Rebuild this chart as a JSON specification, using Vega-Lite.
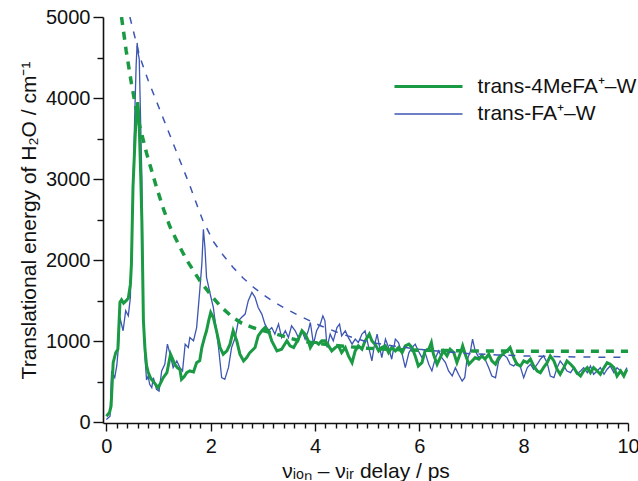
{
  "$schema": "https://vega.github.io/schema/vega-lite/v6.json",
  "width": 525,
  "height": 406,
  "autosize": {"type": "none"},
  "padding": {"left": 103, "top": 17, "right": 10, "bottom": 58},
  "background": "white",
  "config": {
    "view": {"stroke": null},
    "font": "Liberation Sans",
    "axis": {
      "domainColor": "#111", "domainWidth": 1.6, "tickColor": "#111", "tickWidth": 1.4,
      "labelFont": "Liberation Sans", "labelFontSize": 20, "labelColor": "#111",
      "titleFont": "Liberation Sans", "titleFontSize": 21, "titleFontWeight": "normal", "titleColor": "#111",
      "grid": false, "labelOverlap": false, "labelFlush": false, "labelBound": false
    }
  },
  "datasets": {
    "traces": [
      {"series": "trans-4MeFA⁺–W", "t": 0.00, "E": 74},
      {"series": "trans-4MeFA⁺–W", "t": 0.06, "E": 120},
      {"series": "trans-4MeFA⁺–W", "t": 0.09, "E": 200},
      {"series": "trans-4MeFA⁺–W", "t": 0.13, "E": 735},
      {"series": "trans-4MeFA⁺–W", "t": 0.18, "E": 860},
      {"series": "trans-4MeFA⁺–W", "t": 0.22, "E": 900},
      {"series": "trans-4MeFA⁺–W", "t": 0.26, "E": 1480},
      {"series": "trans-4MeFA⁺–W", "t": 0.29, "E": 1510},
      {"series": "trans-4MeFA⁺–W", "t": 0.33, "E": 1470},
      {"series": "trans-4MeFA⁺–W", "t": 0.38, "E": 1500},
      {"series": "trans-4MeFA⁺–W", "t": 0.42, "E": 1530},
      {"series": "trans-4MeFA⁺–W", "t": 0.46, "E": 1700},
      {"series": "trans-4MeFA⁺–W", "t": 0.48, "E": 1950},
      {"series": "trans-4MeFA⁺–W", "t": 0.51, "E": 2900},
      {"series": "trans-4MeFA⁺–W", "t": 0.55, "E": 3500},
      {"series": "trans-4MeFA⁺–W", "t": 0.57, "E": 3750},
      {"series": "trans-4MeFA⁺–W", "t": 0.59, "E": 3900},
      {"series": "trans-4MeFA⁺–W", "t": 0.60, "E": 3950},
      {"series": "trans-4MeFA⁺–W", "t": 0.62, "E": 3800},
      {"series": "trans-4MeFA⁺–W", "t": 0.63, "E": 3650},
      {"series": "trans-4MeFA⁺–W", "t": 0.66, "E": 3000},
      {"series": "trans-4MeFA⁺–W", "t": 0.68, "E": 2490},
      {"series": "trans-4MeFA⁺–W", "t": 0.71, "E": 1251},
      {"series": "trans-4MeFA⁺–W", "t": 0.74, "E": 900},
      {"series": "trans-4MeFA⁺–W", "t": 0.77, "E": 700},
      {"series": "trans-4MeFA⁺–W", "t": 0.80, "E": 620},
      {"series": "trans-4MeFA⁺–W", "t": 0.85, "E": 540},
      {"series": "trans-4MeFA⁺–W", "t": 0.90, "E": 500},
      {"series": "trans-4MeFA⁺–W", "t": 0.95, "E": 460},
      {"series": "trans-4MeFA⁺–W", "t": 0.99, "E": 425},
      {"series": "trans-4MeFA⁺–W", "t": 1.03, "E": 470},
      {"series": "trans-4MeFA⁺–W", "t": 1.09, "E": 549},
      {"series": "trans-4MeFA⁺–W", "t": 1.16, "E": 611},
      {"series": "trans-4MeFA⁺–W", "t": 1.23, "E": 839},
      {"series": "trans-4MeFA⁺–W", "t": 1.27, "E": 780},
      {"series": "trans-4MeFA⁺–W", "t": 1.31, "E": 715},
      {"series": "trans-4MeFA⁺–W", "t": 1.36, "E": 673},
      {"series": "trans-4MeFA⁺–W", "t": 1.41, "E": 650},
      {"series": "trans-4MeFA⁺–W", "t": 1.44, "E": 529},
      {"series": "trans-4MeFA⁺–W", "t": 1.49, "E": 560},
      {"series": "trans-4MeFA⁺–W", "t": 1.54, "E": 611},
      {"series": "trans-4MeFA⁺–W", "t": 1.60, "E": 632},
      {"series": "trans-4MeFA⁺–W", "t": 1.67, "E": 620},
      {"series": "trans-4MeFA⁺–W", "t": 1.73, "E": 735},
      {"series": "trans-4MeFA⁺–W", "t": 1.79, "E": 760},
      {"series": "trans-4MeFA⁺–W", "t": 1.83, "E": 921},
      {"series": "trans-4MeFA⁺–W", "t": 1.88, "E": 1044},
      {"series": "trans-4MeFA⁺–W", "t": 1.92, "E": 1128},
      {"series": "trans-4MeFA⁺–W", "t": 1.96, "E": 1250},
      {"series": "trans-4MeFA⁺–W", "t": 2.00, "E": 1354},
      {"series": "trans-4MeFA⁺–W", "t": 2.05, "E": 1292},
      {"series": "trans-4MeFA⁺–W", "t": 2.11, "E": 1128},
      {"series": "trans-4MeFA⁺–W", "t": 2.18, "E": 921},
      {"series": "trans-4MeFA⁺–W", "t": 2.24, "E": 839},
      {"series": "trans-4MeFA⁺–W", "t": 2.31, "E": 880},
      {"series": "trans-4MeFA⁺–W", "t": 2.37, "E": 963},
      {"series": "trans-4MeFA⁺–W", "t": 2.43, "E": 1128},
      {"series": "trans-4MeFA⁺–W", "t": 2.50, "E": 1004},
      {"series": "trans-4MeFA⁺–W", "t": 2.56, "E": 839},
      {"series": "trans-4MeFA⁺–W", "t": 2.63, "E": 756},
      {"series": "trans-4MeFA⁺–W", "t": 2.69, "E": 797},
      {"series": "trans-4MeFA⁺–W", "t": 2.75, "E": 859},
      {"series": "trans-4MeFA⁺–W", "t": 2.85, "E": 921},
      {"series": "trans-4MeFA⁺–W", "t": 2.91, "E": 1066},
      {"series": "trans-4MeFA⁺–W", "t": 2.98, "E": 1128},
      {"series": "trans-4MeFA⁺–W", "t": 3.04, "E": 1168},
      {"series": "trans-4MeFA⁺–W", "t": 3.11, "E": 1128},
      {"series": "trans-4MeFA⁺–W", "t": 3.17, "E": 1004},
      {"series": "trans-4MeFA⁺–W", "t": 3.27, "E": 880},
      {"series": "trans-4MeFA⁺–W", "t": 3.36, "E": 901},
      {"series": "trans-4MeFA⁺–W", "t": 3.46, "E": 1004},
      {"series": "trans-4MeFA⁺–W", "t": 3.52, "E": 942},
      {"series": "trans-4MeFA⁺–W", "t": 3.59, "E": 921},
      {"series": "trans-4MeFA⁺–W", "t": 3.68, "E": 1025},
      {"series": "trans-4MeFA⁺–W", "t": 3.75, "E": 1128},
      {"series": "trans-4MeFA⁺–W", "t": 3.81, "E": 1087},
      {"series": "trans-4MeFA⁺–W", "t": 3.87, "E": 1004},
      {"series": "trans-4MeFA⁺–W", "t": 3.91, "E": 921},
      {"series": "trans-4MeFA⁺–W", "t": 3.97, "E": 983},
      {"series": "trans-4MeFA⁺–W", "t": 4.03, "E": 983},
      {"series": "trans-4MeFA⁺–W", "t": 4.07, "E": 963},
      {"series": "trans-4MeFA⁺–W", "t": 4.13, "E": 1004},
      {"series": "trans-4MeFA⁺–W", "t": 4.19, "E": 1004},
      {"series": "trans-4MeFA⁺–W", "t": 4.26, "E": 942},
      {"series": "trans-4MeFA⁺–W", "t": 4.32, "E": 880},
      {"series": "trans-4MeFA⁺–W", "t": 4.39, "E": 921},
      {"series": "trans-4MeFA⁺–W", "t": 4.45, "E": 942},
      {"series": "trans-4MeFA⁺–W", "t": 4.51, "E": 859},
      {"series": "trans-4MeFA⁺–W", "t": 4.58, "E": 921},
      {"series": "trans-4MeFA⁺–W", "t": 4.64, "E": 818},
      {"series": "trans-4MeFA⁺–W", "t": 4.71, "E": 735},
      {"series": "trans-4MeFA⁺–W", "t": 4.77, "E": 880},
      {"series": "trans-4MeFA⁺–W", "t": 4.83, "E": 942},
      {"series": "trans-4MeFA⁺–W", "t": 4.90, "E": 901},
      {"series": "trans-4MeFA⁺–W", "t": 4.96, "E": 1004},
      {"series": "trans-4MeFA⁺–W", "t": 5.04, "E": 1087},
      {"series": "trans-4MeFA⁺–W", "t": 5.09, "E": 1004},
      {"series": "trans-4MeFA⁺–W", "t": 5.15, "E": 963},
      {"series": "trans-4MeFA⁺–W", "t": 5.22, "E": 880},
      {"series": "trans-4MeFA⁺–W", "t": 5.28, "E": 921},
      {"series": "trans-4MeFA⁺–W", "t": 5.35, "E": 942},
      {"series": "trans-4MeFA⁺–W", "t": 5.41, "E": 859},
      {"series": "trans-4MeFA⁺–W", "t": 5.47, "E": 921},
      {"series": "trans-4MeFA⁺–W", "t": 5.54, "E": 880},
      {"series": "trans-4MeFA⁺–W", "t": 5.60, "E": 921},
      {"series": "trans-4MeFA⁺–W", "t": 5.67, "E": 859},
      {"series": "trans-4MeFA⁺–W", "t": 5.73, "E": 942},
      {"series": "trans-4MeFA⁺–W", "t": 5.80, "E": 963},
      {"series": "trans-4MeFA⁺–W", "t": 5.86, "E": 921},
      {"series": "trans-4MeFA⁺–W", "t": 5.92, "E": 818},
      {"series": "trans-4MeFA⁺–W", "t": 5.98, "E": 694},
      {"series": "trans-4MeFA⁺–W", "t": 6.05, "E": 735},
      {"series": "trans-4MeFA⁺–W", "t": 6.11, "E": 880},
      {"series": "trans-4MeFA⁺–W", "t": 6.18, "E": 901},
      {"series": "trans-4MeFA⁺–W", "t": 6.23, "E": 983},
      {"series": "trans-4MeFA⁺–W", "t": 6.27, "E": 839},
      {"series": "trans-4MeFA⁺–W", "t": 6.34, "E": 715},
      {"series": "trans-4MeFA⁺–W", "t": 6.40, "E": 797},
      {"series": "trans-4MeFA⁺–W", "t": 6.46, "E": 880},
      {"series": "trans-4MeFA⁺–W", "t": 6.53, "E": 818},
      {"series": "trans-4MeFA⁺–W", "t": 6.59, "E": 901},
      {"series": "trans-4MeFA⁺–W", "t": 6.66, "E": 859},
      {"series": "trans-4MeFA⁺–W", "t": 6.72, "E": 735},
      {"series": "trans-4MeFA⁺–W", "t": 6.79, "E": 859},
      {"series": "trans-4MeFA⁺–W", "t": 6.83, "E": 942},
      {"series": "trans-4MeFA⁺–W", "t": 6.88, "E": 839},
      {"series": "trans-4MeFA⁺–W", "t": 6.95, "E": 715},
      {"series": "trans-4MeFA⁺–W", "t": 7.01, "E": 756},
      {"series": "trans-4MeFA⁺–W", "t": 7.07, "E": 797},
      {"series": "trans-4MeFA⁺–W", "t": 7.14, "E": 777},
      {"series": "trans-4MeFA⁺–W", "t": 7.20, "E": 818},
      {"series": "trans-4MeFA⁺–W", "t": 7.26, "E": 777},
      {"series": "trans-4MeFA⁺–W", "t": 7.33, "E": 839},
      {"series": "trans-4MeFA⁺–W", "t": 7.39, "E": 756},
      {"series": "trans-4MeFA⁺–W", "t": 7.46, "E": 715},
      {"series": "trans-4MeFA⁺–W", "t": 7.52, "E": 797},
      {"series": "trans-4MeFA⁺–W", "t": 7.60, "E": 839},
      {"series": "trans-4MeFA⁺–W", "t": 7.68, "E": 880},
      {"series": "trans-4MeFA⁺–W", "t": 7.74, "E": 921},
      {"series": "trans-4MeFA⁺–W", "t": 7.81, "E": 797},
      {"series": "trans-4MeFA⁺–W", "t": 7.87, "E": 715},
      {"series": "trans-4MeFA⁺–W", "t": 7.94, "E": 694},
      {"series": "trans-4MeFA⁺–W", "t": 8.00, "E": 756},
      {"series": "trans-4MeFA⁺–W", "t": 8.07, "E": 735},
      {"series": "trans-4MeFA⁺–W", "t": 8.13, "E": 777},
      {"series": "trans-4MeFA⁺–W", "t": 8.19, "E": 694},
      {"series": "trans-4MeFA⁺–W", "t": 8.26, "E": 632},
      {"series": "trans-4MeFA⁺–W", "t": 8.32, "E": 611},
      {"series": "trans-4MeFA⁺–W", "t": 8.38, "E": 673},
      {"series": "trans-4MeFA⁺–W", "t": 8.45, "E": 735},
      {"series": "trans-4MeFA⁺–W", "t": 8.51, "E": 818},
      {"series": "trans-4MeFA⁺–W", "t": 8.58, "E": 756},
      {"series": "trans-4MeFA⁺–W", "t": 8.64, "E": 653},
      {"series": "trans-4MeFA⁺–W", "t": 8.70, "E": 591},
      {"series": "trans-4MeFA⁺–W", "t": 8.77, "E": 673},
      {"series": "trans-4MeFA⁺–W", "t": 8.83, "E": 756},
      {"series": "trans-4MeFA⁺–W", "t": 8.90, "E": 715},
      {"series": "trans-4MeFA⁺–W", "t": 8.96, "E": 673},
      {"series": "trans-4MeFA⁺–W", "t": 9.02, "E": 611},
      {"series": "trans-4MeFA⁺–W", "t": 9.09, "E": 570},
      {"series": "trans-4MeFA⁺–W", "t": 9.15, "E": 632},
      {"series": "trans-4MeFA⁺–W", "t": 9.22, "E": 673},
      {"series": "trans-4MeFA⁺–W", "t": 9.28, "E": 611},
      {"series": "trans-4MeFA⁺–W", "t": 9.34, "E": 673},
      {"series": "trans-4MeFA⁺–W", "t": 9.41, "E": 632},
      {"series": "trans-4MeFA⁺–W", "t": 9.47, "E": 591},
      {"series": "trans-4MeFA⁺–W", "t": 9.54, "E": 673},
      {"series": "trans-4MeFA⁺–W", "t": 9.60, "E": 735},
      {"series": "trans-4MeFA⁺–W", "t": 9.66, "E": 715},
      {"series": "trans-4MeFA⁺–W", "t": 9.73, "E": 673},
      {"series": "trans-4MeFA⁺–W", "t": 9.79, "E": 570},
      {"series": "trans-4MeFA⁺–W", "t": 9.86, "E": 632},
      {"series": "trans-4MeFA⁺–W", "t": 9.92, "E": 570},
      {"series": "trans-4MeFA⁺–W", "t": 9.98, "E": 653},
      {"series": "trans-FA⁺–W", "t": 0.00, "E": 33},
      {"series": "trans-FA⁺–W", "t": 0.07, "E": 74},
      {"series": "trans-FA⁺–W", "t": 0.10, "E": 632},
      {"series": "trans-FA⁺–W", "t": 0.16, "E": 549},
      {"series": "trans-FA⁺–W", "t": 0.20, "E": 700},
      {"series": "trans-FA⁺–W", "t": 0.23, "E": 921},
      {"series": "trans-FA⁺–W", "t": 0.26, "E": 1292},
      {"series": "trans-FA⁺–W", "t": 0.32, "E": 1128},
      {"series": "trans-FA⁺–W", "t": 0.37, "E": 1375},
      {"series": "trans-FA⁺–W", "t": 0.42, "E": 1313},
      {"series": "trans-FA⁺–W", "t": 0.46, "E": 1540},
      {"series": "trans-FA⁺–W", "t": 0.50, "E": 2600},
      {"series": "trans-FA⁺–W", "t": 0.54, "E": 3700},
      {"series": "trans-FA⁺–W", "t": 0.57, "E": 4400},
      {"series": "trans-FA⁺–W", "t": 0.59, "E": 4680},
      {"series": "trans-FA⁺–W", "t": 0.61, "E": 4550},
      {"series": "trans-FA⁺–W", "t": 0.63, "E": 4480},
      {"series": "trans-FA⁺–W", "t": 0.65, "E": 3900},
      {"series": "trans-FA⁺–W", "t": 0.68, "E": 3000},
      {"series": "trans-FA⁺–W", "t": 0.71, "E": 1251},
      {"series": "trans-FA⁺–W", "t": 0.74, "E": 800},
      {"series": "trans-FA⁺–W", "t": 0.77, "E": 520},
      {"series": "trans-FA⁺–W", "t": 0.80, "E": 570},
      {"series": "trans-FA⁺–W", "t": 0.83, "E": 467},
      {"series": "trans-FA⁺–W", "t": 0.87, "E": 425},
      {"series": "trans-FA⁺–W", "t": 0.90, "E": 549},
      {"series": "trans-FA⁺–W", "t": 0.93, "E": 480},
      {"series": "trans-FA⁺–W", "t": 0.96, "E": 405},
      {"series": "trans-FA⁺–W", "t": 1.01, "E": 384},
      {"series": "trans-FA⁺–W", "t": 1.06, "E": 632},
      {"series": "trans-FA⁺–W", "t": 1.12, "E": 715},
      {"series": "trans-FA⁺–W", "t": 1.17, "E": 963},
      {"series": "trans-FA⁺–W", "t": 1.22, "E": 839},
      {"series": "trans-FA⁺–W", "t": 1.28, "E": 673},
      {"series": "trans-FA⁺–W", "t": 1.35, "E": 756},
      {"series": "trans-FA⁺–W", "t": 1.41, "E": 673},
      {"series": "trans-FA⁺–W", "t": 1.46, "E": 632},
      {"series": "trans-FA⁺–W", "t": 1.51, "E": 963},
      {"series": "trans-FA⁺–W", "t": 1.57, "E": 921},
      {"series": "trans-FA⁺–W", "t": 1.60, "E": 1044},
      {"series": "trans-FA⁺–W", "t": 1.67, "E": 1004},
      {"series": "trans-FA⁺–W", "t": 1.73, "E": 1168},
      {"series": "trans-FA⁺–W", "t": 1.79, "E": 1623},
      {"series": "trans-FA⁺–W", "t": 1.83, "E": 1954},
      {"series": "trans-FA⁺–W", "t": 1.86, "E": 2380},
      {"series": "trans-FA⁺–W", "t": 1.89, "E": 2150},
      {"series": "trans-FA⁺–W", "t": 1.92, "E": 1788},
      {"series": "trans-FA⁺–W", "t": 1.99, "E": 1582},
      {"series": "trans-FA⁺–W", "t": 2.05, "E": 1416},
      {"series": "trans-FA⁺–W", "t": 2.10, "E": 1168},
      {"series": "trans-FA⁺–W", "t": 2.15, "E": 921},
      {"series": "trans-FA⁺–W", "t": 2.21, "E": 549},
      {"series": "trans-FA⁺–W", "t": 2.27, "E": 529},
      {"series": "trans-FA⁺–W", "t": 2.34, "E": 673},
      {"series": "trans-FA⁺–W", "t": 2.40, "E": 921},
      {"series": "trans-FA⁺–W", "t": 2.47, "E": 1044},
      {"series": "trans-FA⁺–W", "t": 2.53, "E": 1251},
      {"series": "trans-FA⁺–W", "t": 2.59, "E": 1292},
      {"series": "trans-FA⁺–W", "t": 2.66, "E": 1334},
      {"series": "trans-FA⁺–W", "t": 2.72, "E": 1499},
      {"series": "trans-FA⁺–W", "t": 2.79, "E": 1602},
      {"series": "trans-FA⁺–W", "t": 2.85, "E": 1540},
      {"series": "trans-FA⁺–W", "t": 2.91, "E": 1416},
      {"series": "trans-FA⁺–W", "t": 2.98, "E": 1334},
      {"series": "trans-FA⁺–W", "t": 3.04, "E": 1210},
      {"series": "trans-FA⁺–W", "t": 3.11, "E": 1128},
      {"series": "trans-FA⁺–W", "t": 3.17, "E": 1168},
      {"series": "trans-FA⁺–W", "t": 3.23, "E": 1087},
      {"series": "trans-FA⁺–W", "t": 3.30, "E": 1210},
      {"series": "trans-FA⁺–W", "t": 3.36, "E": 1044},
      {"series": "trans-FA⁺–W", "t": 3.43, "E": 1128},
      {"series": "trans-FA⁺–W", "t": 3.49, "E": 1044},
      {"series": "trans-FA⁺–W", "t": 3.55, "E": 1189},
      {"series": "trans-FA⁺–W", "t": 3.62, "E": 1128},
      {"series": "trans-FA⁺–W", "t": 3.68, "E": 1044},
      {"series": "trans-FA⁺–W", "t": 3.75, "E": 1128},
      {"series": "trans-FA⁺–W", "t": 3.81, "E": 1025},
      {"series": "trans-FA⁺–W", "t": 3.87, "E": 1128},
      {"series": "trans-FA⁺–W", "t": 3.91, "E": 1230},
      {"series": "trans-FA⁺–W", "t": 3.97, "E": 963},
      {"series": "trans-FA⁺–W", "t": 4.03, "E": 1128},
      {"series": "trans-FA⁺–W", "t": 4.10, "E": 1210},
      {"series": "trans-FA⁺–W", "t": 4.15, "E": 1313},
      {"series": "trans-FA⁺–W", "t": 4.19, "E": 1251},
      {"series": "trans-FA⁺–W", "t": 4.23, "E": 921},
      {"series": "trans-FA⁺–W", "t": 4.29, "E": 1087},
      {"series": "trans-FA⁺–W", "t": 4.35, "E": 1004},
      {"series": "trans-FA⁺–W", "t": 4.42, "E": 1168},
      {"series": "trans-FA⁺–W", "t": 4.47, "E": 1210},
      {"series": "trans-FA⁺–W", "t": 4.51, "E": 1066},
      {"series": "trans-FA⁺–W", "t": 4.58, "E": 1128},
      {"series": "trans-FA⁺–W", "t": 4.64, "E": 1044},
      {"series": "trans-FA⁺–W", "t": 4.71, "E": 963},
      {"series": "trans-FA⁺–W", "t": 4.77, "E": 1025},
      {"series": "trans-FA⁺–W", "t": 4.83, "E": 983},
      {"series": "trans-FA⁺–W", "t": 4.90, "E": 1087},
      {"series": "trans-FA⁺–W", "t": 4.96, "E": 1128},
      {"series": "trans-FA⁺–W", "t": 5.03, "E": 921},
      {"series": "trans-FA⁺–W", "t": 5.09, "E": 756},
      {"series": "trans-FA⁺–W", "t": 5.13, "E": 921},
      {"series": "trans-FA⁺–W", "t": 5.19, "E": 1087},
      {"series": "trans-FA⁺–W", "t": 5.24, "E": 921},
      {"series": "trans-FA⁺–W", "t": 5.28, "E": 797},
      {"series": "trans-FA⁺–W", "t": 5.35, "E": 1025},
      {"series": "trans-FA⁺–W", "t": 5.41, "E": 921},
      {"series": "trans-FA⁺–W", "t": 5.47, "E": 777},
      {"series": "trans-FA⁺–W", "t": 5.54, "E": 1025},
      {"series": "trans-FA⁺–W", "t": 5.60, "E": 983},
      {"series": "trans-FA⁺–W", "t": 5.67, "E": 839},
      {"series": "trans-FA⁺–W", "t": 5.73, "E": 673},
      {"series": "trans-FA⁺–W", "t": 5.80, "E": 859},
      {"series": "trans-FA⁺–W", "t": 5.86, "E": 921},
      {"series": "trans-FA⁺–W", "t": 5.92, "E": 963},
      {"series": "trans-FA⁺–W", "t": 5.98, "E": 880},
      {"series": "trans-FA⁺–W", "t": 6.05, "E": 797},
      {"series": "trans-FA⁺–W", "t": 6.11, "E": 859},
      {"series": "trans-FA⁺–W", "t": 6.18, "E": 715},
      {"series": "trans-FA⁺–W", "t": 6.24, "E": 632},
      {"series": "trans-FA⁺–W", "t": 6.31, "E": 797},
      {"series": "trans-FA⁺–W", "t": 6.37, "E": 880},
      {"series": "trans-FA⁺–W", "t": 6.43, "E": 797},
      {"series": "trans-FA⁺–W", "t": 6.50, "E": 735},
      {"series": "trans-FA⁺–W", "t": 6.56, "E": 632},
      {"series": "trans-FA⁺–W", "t": 6.63, "E": 570},
      {"series": "trans-FA⁺–W", "t": 6.69, "E": 673},
      {"series": "trans-FA⁺–W", "t": 6.75, "E": 591},
      {"series": "trans-FA⁺–W", "t": 6.82, "E": 508},
      {"series": "trans-FA⁺–W", "t": 6.87, "E": 549},
      {"series": "trans-FA⁺–W", "t": 6.91, "E": 756},
      {"series": "trans-FA⁺–W", "t": 6.98, "E": 880},
      {"series": "trans-FA⁺–W", "t": 7.02, "E": 1025},
      {"series": "trans-FA⁺–W", "t": 7.07, "E": 880},
      {"series": "trans-FA⁺–W", "t": 7.14, "E": 797},
      {"series": "trans-FA⁺–W", "t": 7.20, "E": 839},
      {"series": "trans-FA⁺–W", "t": 7.26, "E": 777},
      {"series": "trans-FA⁺–W", "t": 7.33, "E": 673},
      {"series": "trans-FA⁺–W", "t": 7.39, "E": 570},
      {"series": "trans-FA⁺–W", "t": 7.46, "E": 549},
      {"series": "trans-FA⁺–W", "t": 7.52, "E": 756},
      {"series": "trans-FA⁺–W", "t": 7.60, "E": 839},
      {"series": "trans-FA⁺–W", "t": 7.68, "E": 797},
      {"series": "trans-FA⁺–W", "t": 7.74, "E": 715},
      {"series": "trans-FA⁺–W", "t": 7.81, "E": 694},
      {"series": "trans-FA⁺–W", "t": 7.87, "E": 735},
      {"series": "trans-FA⁺–W", "t": 7.94, "E": 673},
      {"series": "trans-FA⁺–W", "t": 8.00, "E": 549},
      {"series": "trans-FA⁺–W", "t": 8.07, "E": 673},
      {"series": "trans-FA⁺–W", "t": 8.13, "E": 715},
      {"series": "trans-FA⁺–W", "t": 8.19, "E": 653},
      {"series": "trans-FA⁺–W", "t": 8.26, "E": 715},
      {"series": "trans-FA⁺–W", "t": 8.32, "E": 777},
      {"series": "trans-FA⁺–W", "t": 8.38, "E": 818},
      {"series": "trans-FA⁺–W", "t": 8.45, "E": 735},
      {"series": "trans-FA⁺–W", "t": 8.51, "E": 570},
      {"series": "trans-FA⁺–W", "t": 8.58, "E": 549},
      {"series": "trans-FA⁺–W", "t": 8.64, "E": 673},
      {"series": "trans-FA⁺–W", "t": 8.70, "E": 756},
      {"series": "trans-FA⁺–W", "t": 8.77, "E": 694},
      {"series": "trans-FA⁺–W", "t": 8.83, "E": 632},
      {"series": "trans-FA⁺–W", "t": 8.90, "E": 611},
      {"series": "trans-FA⁺–W", "t": 8.96, "E": 673},
      {"series": "trans-FA⁺–W", "t": 9.02, "E": 591},
      {"series": "trans-FA⁺–W", "t": 9.09, "E": 632},
      {"series": "trans-FA⁺–W", "t": 9.15, "E": 673},
      {"series": "trans-FA⁺–W", "t": 9.22, "E": 611},
      {"series": "trans-FA⁺–W", "t": 9.28, "E": 694},
      {"series": "trans-FA⁺–W", "t": 9.34, "E": 591},
      {"series": "trans-FA⁺–W", "t": 9.41, "E": 632},
      {"series": "trans-FA⁺–W", "t": 9.47, "E": 673},
      {"series": "trans-FA⁺–W", "t": 9.54, "E": 591},
      {"series": "trans-FA⁺–W", "t": 9.60, "E": 653},
      {"series": "trans-FA⁺–W", "t": 9.66, "E": 694},
      {"series": "trans-FA⁺–W", "t": 9.73, "E": 611},
      {"series": "trans-FA⁺–W", "t": 9.79, "E": 673},
      {"series": "trans-FA⁺–W", "t": 9.86, "E": 632},
      {"series": "trans-FA⁺–W", "t": 9.92, "E": 591},
      {"series": "trans-FA⁺–W", "t": 9.98, "E": 673}
    ],
    "fits": [
      {"series": "4MeFA fit", "t": 0.29, "E": 5000},
      {"series": "4MeFA fit", "t": 0.38, "E": 4580},
      {"series": "4MeFA fit", "t": 0.48, "E": 4180},
      {"series": "4MeFA fit", "t": 0.56, "E": 3900},
      {"series": "4MeFA fit", "t": 0.64, "E": 3650},
      {"series": "4MeFA fit", "t": 0.77, "E": 3320},
      {"series": "4MeFA fit", "t": 0.96, "E": 2900},
      {"series": "4MeFA fit", "t": 1.10, "E": 2620},
      {"series": "4MeFA fit", "t": 1.22, "E": 2410},
      {"series": "4MeFA fit", "t": 1.41, "E": 2160},
      {"series": "4MeFA fit", "t": 1.54, "E": 2000},
      {"series": "4MeFA fit", "t": 1.79, "E": 1747},
      {"series": "4MeFA fit", "t": 2.04, "E": 1540},
      {"series": "4MeFA fit", "t": 2.20, "E": 1420},
      {"series": "4MeFA fit", "t": 2.43, "E": 1290},
      {"series": "4MeFA fit", "t": 2.60, "E": 1220},
      {"series": "4MeFA fit", "t": 2.82, "E": 1165},
      {"series": "4MeFA fit", "t": 3.00, "E": 1130},
      {"series": "4MeFA fit", "t": 3.27, "E": 1085},
      {"series": "4MeFA fit", "t": 3.50, "E": 1040},
      {"series": "4MeFA fit", "t": 3.71, "E": 1004},
      {"series": "4MeFA fit", "t": 4.00, "E": 975},
      {"series": "4MeFA fit", "t": 4.50, "E": 940},
      {"series": "4MeFA fit", "t": 5.00, "E": 912},
      {"series": "4MeFA fit", "t": 5.50, "E": 897},
      {"series": "4MeFA fit", "t": 6.00, "E": 888},
      {"series": "4MeFA fit", "t": 7.00, "E": 880},
      {"series": "4MeFA fit", "t": 8.00, "E": 876},
      {"series": "4MeFA fit", "t": 9.00, "E": 875},
      {"series": "4MeFA fit", "t": 10.00, "E": 875},
      {"series": "FA fit", "t": 0.45, "E": 5000},
      {"series": "FA fit", "t": 0.64, "E": 4510},
      {"series": "FA fit", "t": 0.80, "E": 4220},
      {"series": "FA fit", "t": 0.96, "E": 3960},
      {"series": "FA fit", "t": 1.12, "E": 3700},
      {"series": "FA fit", "t": 1.28, "E": 3440},
      {"series": "FA fit", "t": 1.44, "E": 3180},
      {"series": "FA fit", "t": 1.60, "E": 2920},
      {"series": "FA fit", "t": 1.76, "E": 2640},
      {"series": "FA fit", "t": 1.86, "E": 2470},
      {"series": "FA fit", "t": 1.92, "E": 2400},
      {"series": "FA fit", "t": 2.05, "E": 2230},
      {"series": "FA fit", "t": 2.24, "E": 2060},
      {"series": "FA fit", "t": 2.43, "E": 1910},
      {"series": "FA fit", "t": 2.62, "E": 1780},
      {"series": "FA fit", "t": 2.82, "E": 1665},
      {"series": "FA fit", "t": 3.00, "E": 1575},
      {"series": "FA fit", "t": 3.20, "E": 1490},
      {"series": "FA fit", "t": 3.45, "E": 1395},
      {"series": "FA fit", "t": 3.71, "E": 1310},
      {"series": "FA fit", "t": 4.07, "E": 1200},
      {"series": "FA fit", "t": 4.50, "E": 1090},
      {"series": "FA fit", "t": 5.00, "E": 990},
      {"series": "FA fit", "t": 5.50, "E": 940},
      {"series": "FA fit", "t": 6.00, "E": 900},
      {"series": "FA fit", "t": 6.50, "E": 868},
      {"series": "FA fit", "t": 7.00, "E": 845},
      {"series": "FA fit", "t": 7.50, "E": 830},
      {"series": "FA fit", "t": 8.00, "E": 818},
      {"series": "FA fit", "t": 9.00, "E": 805},
      {"series": "FA fit", "t": 10.00, "E": 800}
    ]
  },
  "encoding": {
    "x": {
      "field": "t", "type": "quantitative",
      "scale": {"domain": [-0.065, 10], "nice": false, "zero": false},
      "axis": {
        "title": "νᵢₒₙ – νᵢᵣ delay / ps",
        "values": [0,0.2,0.4,0.6,0.8,1,1.2,1.4,1.6,1.8,2,2.2,2.4,2.6,2.8,3,3.2,3.4,3.6,3.8,4,4.2,4.4,4.6,4.8,5,5.2,5.4,5.6,5.8,6,6.2,6.4,6.6,6.8,7,7.2,7.4,7.6,7.8,8,8.2,8.4,8.6,8.8,9,9.2,9.4,9.6,9.8,10],
        "labelExpr": "datum.value % 2 === 0 ? format(datum.value, 'd') : ''",
        "tickSize": {"condition": {"test": "datum.value % 2 === 0", "value": 8}, "value": 5},
        "labelPadding": 5,
        "titlePadding": 4
      }
    },
    "y": {
      "field": "E", "type": "quantitative",
      "scale": {"domain": [-10, 5000], "nice": false, "zero": false},
      "axis": {
        "title": "Translational energy of H₂O / cm⁻¹",
        "values": [0,500,1000,1500,2000,2500,3000,3500,4000,4500,5000],
        "labelExpr": "datum.value % 1000 === 0 ? format(datum.value, 'd') : ''",
        "tickSize": {"condition": {"test": "datum.value % 1000 === 0", "value": 10}, "value": 6},
        "labelPadding": 3,
        "titlePadding": 6
      }
    }
  },
  "layer": [
    {
      "data": {"name": "traces"},
      "transform": [{"filter": "datum.series === 'trans-FA⁺–W'"}],
      "mark": {"type": "line", "interpolate": "linear", "clip": true},
      "encoding": {
        "color": {"field": "series", "type": "nominal",
          "scale": {"domain": ["trans-4MeFA⁺–W", "trans-FA⁺–W"], "range": ["#1b9a44", "#3d56b3"]},
          "legend": {"title": null, "orient": "none", "legendX": 314, "legendY": 58,
            "symbolType": "M-3.4,0H3.4", "symbolSize": 400, "labelFontSize": 21, "labelFont": "Liberation Sans",
            "labelColor": "#111", "labelOffset": 37.6, "rowPadding": 6, "symbolStrokeWidth": 3}},
        "strokeWidth": {"field": "series", "type": "nominal",
          "scale": {"domain": ["trans-4MeFA⁺–W", "trans-FA⁺–W"], "range": [3, 1.3]}, "legend": null}
      }
    },
    {
      "data": {"name": "traces"},
      "transform": [{"filter": "datum.series === 'trans-4MeFA⁺–W'"}],
      "mark": {"type": "line", "interpolate": "linear", "clip": true},
      "encoding": {
        "color": {"field": "series", "type": "nominal"},
        "strokeWidth": {"field": "series", "type": "nominal", "legend": null}
      }
    },
    {
      "data": {"name": "fits"},
      "transform": [{"filter": "datum.series === 'FA fit'"}],
      "mark": {"type": "line", "color": "#3d56b3", "strokeWidth": 1.5, "strokeDash": [7, 8], "clip": true},
      "encoding": {}
    },
    {
      "data": {"name": "fits"},
      "transform": [{"filter": "datum.series === '4MeFA fit'"}],
      "mark": {"type": "line", "color": "#1b9a44", "strokeWidth": 3.5, "strokeDash": [8, 7], "clip": true},
      "encoding": {}
    }
  ]
}
